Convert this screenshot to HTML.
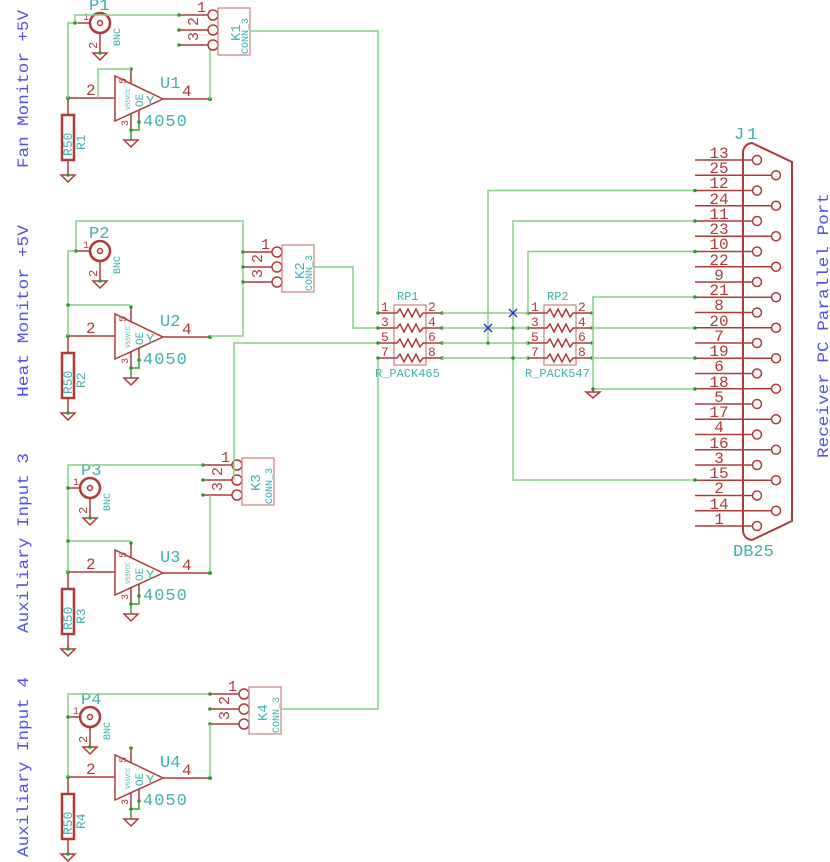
<!DOCTYPE html>
<html><head><meta charset="utf-8"><style>
html,body{margin:0;padding:0;background:#fff}
svg{display:block}
text{font-family:"Liberation Mono","DejaVu Sans Mono",monospace}
.r{stroke:#b03a3a;stroke-width:1.5;fill:none}
.rb{stroke:#b03a3a;stroke-width:2.5;fill:none}
.g{stroke:#86d086;stroke-width:1.5;fill:none}
.gd{stroke:#3aa03a;stroke-width:1.5;fill:none}
.rt{fill:#b03a3a}
.tt{fill:#40b0b0}
.bt{fill:#5050f0}
.d{fill:#2a9a2a}
</style></head><body>
<svg width="830" height="862" viewBox="0 0 830 862" xmlns="http://www.w3.org/2000/svg" font-size="14">
<defs>
<g id="amp">
  <line class="r" x1="68" y1="98" x2="115" y2="98"/>
  <text class="rt" x="86" y="95" font-size="16">2</text>
  <polygon class="r" points="115,76 115,121 163,99"/>
  <line class="r" x1="163" y1="99" x2="210" y2="99"/>
  <text class="rt" x="182" y="96" font-size="16">4</text>
  <line class="r" x1="131" y1="69" x2="131" y2="83"/>
  <text class="rt" x="122" y="80" font-size="10" transform="rotate(-90 126 80)">5</text>
  <line class="r" x1="131" y1="114" x2="131" y2="130"/>
  <text class="rt" x="122" y="124" font-size="10" transform="rotate(-90 126 122)">3</text>
  <line class="r" x1="139" y1="110" x2="139" y2="122"/>
  <polyline class="gd" points="139,122 139,130 131,130"/>
  <line class="gd" x1="131" y1="130" x2="131" y2="140"/>
  <polygon class="r" points="124,140 138,140 131,147"/>
  <circle class="d" cx="131" cy="130" r="1.8"/><circle class="d" cx="139" cy="122" r="1.8"/>
  <circle class="d" cx="131" cy="69" r="1.8"/>
  <text fill="#40b0b0" font-size="6" transform="translate(130,110) rotate(-90)">VSSVCC</text>
  <text fill="#40b0b0" font-size="11" transform="translate(143,107) rotate(-90)">OE</text>
  <text fill="#40b0b0" font-size="14" x="146" y="105">Y</text>
  <text class="tt" x="143" y="126" font-size="17" letter-spacing="1">4050</text>
  <line class="r" x1="68" y1="98" x2="68" y2="115"/>
  <rect class="rb" x="62" y="115" width="12" height="45"/>
  <line class="r" x1="68" y1="160" x2="68" y2="175"/>
  <polygon class="r" points="61,175 75,175 68,182"/>
  <circle class="d" cx="68" cy="175" r="1.8"/>
  <circle class="d" cx="68" cy="98" r="2"/><circle class="d" cx="210" cy="99" r="2"/>
  <text fill="#40b0b0" font-size="13" transform="translate(72,156) rotate(-90)">R50</text>
</g>
<g id="bnc">
  <circle cx="0" cy="0" r="10" fill="none" stroke="#b03a3a" stroke-width="2.5"/>
  <circle cx="0" cy="0" r="2.5" fill="none" stroke="#b03a3a" stroke-width="1.5"/>
  <line class="r" x1="-10" y1="0" x2="-22" y2="0"/>
  <line class="r" x1="0" y1="10" x2="0" y2="30"/>
  <polygon class="r" points="-7,30 7,30 0,37"/>
  <circle class="d" cx="0" cy="30" r="1.8"/>
  <text class="rt" x="-17" y="-3" font-size="10">1</text>
  <text class="rt" font-size="12" transform="translate(-3,26) rotate(-90)">2</text>
  <text fill="#40b0b0" font-size="10" transform="translate(20,23) rotate(-90)">BNC</text>
</g>
<g id="kconn">
  <line class="r" x1="0" y1="0" x2="29" y2="0"/>
  <line class="r" x1="0" y1="15" x2="29" y2="15"/>
  <line class="r" x1="0" y1="30" x2="29" y2="30"/>
  <circle class="r" cx="34" cy="0" r="5"/>
  <circle class="r" cx="34" cy="15" r="5"/>
  <circle class="r" cx="34" cy="30" r="5"/>
  <rect x="39" y="-7" width="32" height="47" fill="none" stroke="#d08a8a" stroke-width="1.3"/>
  <text class="rt" x="18" y="-3" font-size="15">1</text>
  <text class="rt" font-size="15" transform="translate(19,11) rotate(-90)">2</text>
  <text class="rt" font-size="15" transform="translate(19,26) rotate(-90)">3</text>
  <text fill="#40b0b0" font-size="10" transform="translate(69,39) rotate(-90)">CONN_3</text>
  <circle class="d" cx="0" cy="0" r="1.8"/><circle class="d" cx="0" cy="15" r="1.8"/><circle class="d" cx="0" cy="30" r="1.8"/>
</g>
</defs>

<text class="bt" font-size="16" transform="translate(28,168) rotate(-90)" textLength="158" lengthAdjust="spacingAndGlyphs">Fan Monitor +5V</text>
<text class="bt" font-size="16" transform="translate(28,397) rotate(-90)" textLength="172" lengthAdjust="spacingAndGlyphs">Heat Monitor +5V</text>
<text class="bt" font-size="16" transform="translate(28,633) rotate(-90)" textLength="180" lengthAdjust="spacingAndGlyphs">Auxiliary Input 3</text>
<text class="bt" font-size="16" transform="translate(28,857) rotate(-90)" textLength="180" lengthAdjust="spacingAndGlyphs">Auxiliary Input 4</text>
<text class="bt" font-size="16" transform="translate(828,458) rotate(-90)" textLength="265" lengthAdjust="spacingAndGlyphs">Receiver PC Parallel Port</text>

<!-- Channel 1 -->
<use href="#amp"/>
<text class="tt" font-size="13" transform="translate(85,150) rotate(-90)">R1</text>
<text class="tt" x="160" y="88" font-size="17">U1</text>
<use href="#bnc" x="100" y="23"/>
<text class="tt" x="89" y="10" font-size="17">P1</text>
<polyline class="g" points="68,98 68,23 78,23"/>
<polyline class="g" points="75,23 75,15 179,15"/>
<polyline class="g" points="98,98 98,69 131,69"/>
<circle class="d" cx="75" cy="23" r="1.8"/>
<use href="#kconn" x="179" y="15"/>
<text class="tt" font-size="14" transform="translate(240,41) rotate(-90)">K1</text>
<polyline class="g" points="210,50 210,99"/>
<polyline class="g" points="250,31 378,31 378,313"/>

<!-- Channel 2 -->
<use href="#amp" y="238"/>
<text class="tt" font-size="13" transform="translate(85,388) rotate(-90)">R2</text>
<text class="tt" x="160" y="326" font-size="17">U2</text>
<use href="#bnc" x="100" y="251"/>
<text class="tt" x="89" y="238" font-size="17">P2</text>
<polyline class="g" points="68,336 68,251 78,251"/>
<polyline class="g" points="76,251 76,221 243,221 243,336 210,336"/>
<line class="g" x1="68" y1="305" x2="131" y2="305"/>
<circle class="d" cx="68" cy="305" r="1.8"/><circle class="d" cx="76" cy="251" r="1.8"/>
<use href="#kconn" x="243" y="252"/>
<text class="tt" font-size="14" transform="translate(304,279) rotate(-90)">K2</text>
<polyline class="g" points="313,267 353,267 353,328 378,328"/>

<!-- Channel 3 -->
<use href="#amp" y="474"/>
<text class="tt" font-size="13" transform="translate(85,624) rotate(-90)">R3</text>
<text class="tt" x="160" y="562" font-size="17">U3</text>
<use href="#bnc" x="90" y="488"/>
<text class="tt" x="81" y="475" font-size="17">P3</text>
<polyline class="g" points="68,572 68,465 203,465"/>
<line class="g" x1="68" y1="541" x2="131" y2="541"/>
<circle class="d" cx="68" cy="541" r="1.8"/><circle class="d" cx="68" cy="488" r="1.8"/>
<use href="#kconn" x="203" y="465"/>
<text class="tt" font-size="14" transform="translate(260,491) rotate(-90)">K3</text>
<polyline class="g" points="210,495 210,572"/>
<polyline class="g" points="234,480 234,343 378,343"/>

<!-- Channel 4 -->
<use href="#amp" y="679"/>
<text class="tt" font-size="13" transform="translate(85,829) rotate(-90)">R4</text>
<text class="tt" x="160" y="767" font-size="17">U4</text>
<use href="#bnc" x="90" y="717"/>
<text class="tt" x="81" y="704" font-size="17">P4</text>
<polyline class="g" points="68,777 68,694 210,694"/>
<circle class="d" cx="68" cy="717" r="1.8"/>
<use href="#kconn" x="210" y="694"/>
<text class="tt" font-size="14" transform="translate(267,721) rotate(-90)">K4</text>
<polyline class="g" points="210,724 210,777"/>
<polyline class="g" points="282,709 378,709 378,358"/>

<!-- RP1 / RP2 -->
<g id="rp1">
  <rect x="394" y="305" width="32" height="60" fill="none" stroke="#d08a8a" stroke-width="1.3"/>
  <g class="r">
    <line x1="378" y1="313" x2="394" y2="313"/><line x1="378" y1="328" x2="394" y2="328"/>
    <line x1="378" y1="343" x2="394" y2="343"/><line x1="378" y1="358" x2="394" y2="358"/>
    <line x1="426" y1="313" x2="442" y2="313"/><line x1="426" y1="328" x2="442" y2="328"/>
    <line x1="426" y1="343" x2="442" y2="343"/><line x1="426" y1="358" x2="442" y2="358"/>
    <polyline points="394,313 397,313 400,309 404,317 408,309 412,317 416,309 420,317 423,313 426,313"/>
    <polyline points="394,328 397,328 400,324 404,332 408,324 412,332 416,324 420,332 423,328 426,328"/>
    <polyline points="394,343 397,343 400,339 404,347 408,339 412,347 416,339 420,347 423,343 426,343"/>
    <polyline points="394,358 397,358 400,354 404,362 408,354 412,362 416,354 420,362 423,358 426,358"/>
  </g>
  <text class="rt" x="381" y="311" font-size="13">1</text><text class="rt" x="381" y="326" font-size="13">3</text>
  <text class="rt" x="381" y="341" font-size="13">5</text><text class="rt" x="381" y="356" font-size="13">7</text>
  <text class="rt" x="428" y="311" font-size="13">2</text><text class="rt" x="428" y="326" font-size="13">4</text>
  <text class="rt" x="428" y="341" font-size="13">6</text><text class="rt" x="428" y="356" font-size="13">8</text>
  <circle class="d" cx="378" cy="313" r="1.8"/><circle class="d" cx="378" cy="328" r="1.8"/><circle class="d" cx="378" cy="343" r="1.8"/><circle class="d" cx="378" cy="358" r="1.8"/>
  <circle class="d" cx="442" cy="313" r="1.8"/><circle class="d" cx="442" cy="328" r="1.8"/><circle class="d" cx="442" cy="343" r="1.8"/><circle class="d" cx="442" cy="358" r="1.8"/>
</g>
<text class="tt" x="397" y="300" font-size="12">RP1</text>
<text class="tt" x="375" y="377" font-size="12">R_PACK465</text>
<use href="#rp1" x="150"/>
<text class="tt" x="547" y="300" font-size="12">RP2</text>
<text class="tt" x="525" y="377" font-size="12">R_PACK547</text>

<g class="g">
  <line x1="442" y1="313" x2="528" y2="313"/><line x1="442" y1="328" x2="528" y2="328"/>
  <line x1="442" y1="343" x2="528" y2="343"/><line x1="442" y1="358" x2="528" y2="358"/>
  <polyline points="695,190.5 488,190.5 488,343"/>
  <polyline points="695,221 513,221 513,480 695,480"/>
  <polyline points="695,251.5 528,251.5 528,313"/>
  <polyline points="695,297 593,297 593,389 695,389"/>
  <line x1="592" y1="328" x2="695" y2="328"/>
  <line x1="592" y1="358" x2="695" y2="358"/>
</g>
<circle class="d" cx="488" cy="343" r="1.8"/><circle class="d" cx="513" cy="328" r="1.8"/><circle class="d" cx="513" cy="358" r="1.8"/>
<circle class="d" cx="593" cy="389" r="1.8"/>
<line class="r" x1="593" y1="389" x2="593" y2="392"/>
<polygon class="r" points="586,392 600,392 593,398"/>
<g stroke="#2a2ad0" stroke-width="1.3">
  <line x1="484" y1="324" x2="492" y2="332"/><line x1="492" y1="324" x2="484" y2="332"/>
  <line x1="509" y1="309" x2="517" y2="317"/><line x1="517" y1="309" x2="509" y2="317"/>
</g>

<!-- DB25 -->
<path d="M752,143 Q744,144 743,152 L743,531 Q744,539 752,540 L792,521 L792,162 Z" fill="none" stroke="#b03a3a" stroke-width="2"/>
<text class="tt" x="734" y="139" font-size="17" letter-spacing="3">J1</text>
<text class="tt" x="733" y="556" font-size="17">DB25</text>
<g class="r">
  <line x1="695" y1="160" x2="752" y2="160"/><line x1="695" y1="175.25" x2="771" y2="175.25"/>
  <line x1="695" y1="190.5" x2="752" y2="190.5"/><line x1="695" y1="205.75" x2="771" y2="205.75"/>
  <line x1="695" y1="221" x2="752" y2="221"/><line x1="695" y1="236.25" x2="771" y2="236.25"/>
  <line x1="695" y1="251.5" x2="752" y2="251.5"/><line x1="695" y1="266.75" x2="771" y2="266.75"/>
  <line x1="695" y1="282" x2="752" y2="282"/><line x1="695" y1="297.25" x2="771" y2="297.25"/>
  <line x1="695" y1="312.5" x2="752" y2="312.5"/><line x1="695" y1="327.75" x2="771" y2="327.75"/>
  <line x1="695" y1="343" x2="752" y2="343"/><line x1="695" y1="358.25" x2="771" y2="358.25"/>
  <line x1="695" y1="373.5" x2="752" y2="373.5"/><line x1="695" y1="388.75" x2="771" y2="388.75"/>
  <line x1="695" y1="404" x2="752" y2="404"/><line x1="695" y1="419.25" x2="771" y2="419.25"/>
  <line x1="695" y1="434.5" x2="752" y2="434.5"/><line x1="695" y1="449.75" x2="771" y2="449.75"/>
  <line x1="695" y1="465" x2="752" y2="465"/><line x1="695" y1="480.25" x2="771" y2="480.25"/>
  <line x1="695" y1="495.5" x2="752" y2="495.5"/><line x1="695" y1="510.75" x2="771" y2="510.75"/>
  <line x1="695" y1="526" x2="752" y2="526"/>
  <circle cx="757" cy="160" r="4.5"/><circle cx="776" cy="175.25" r="4.5"/>
  <circle cx="757" cy="190.5" r="4.5"/><circle cx="776" cy="205.75" r="4.5"/>
  <circle cx="757" cy="221" r="4.5"/><circle cx="776" cy="236.25" r="4.5"/>
  <circle cx="757" cy="251.5" r="4.5"/><circle cx="776" cy="266.75" r="4.5"/>
  <circle cx="757" cy="282" r="4.5"/><circle cx="776" cy="297.25" r="4.5"/>
  <circle cx="757" cy="312.5" r="4.5"/><circle cx="776" cy="327.75" r="4.5"/>
  <circle cx="757" cy="343" r="4.5"/><circle cx="776" cy="358.25" r="4.5"/>
  <circle cx="757" cy="373.5" r="4.5"/><circle cx="776" cy="388.75" r="4.5"/>
  <circle cx="757" cy="404" r="4.5"/><circle cx="776" cy="419.25" r="4.5"/>
  <circle cx="757" cy="434.5" r="4.5"/><circle cx="776" cy="449.75" r="4.5"/>
  <circle cx="757" cy="465" r="4.5"/><circle cx="776" cy="480.25" r="4.5"/>
  <circle cx="757" cy="495.5" r="4.5"/><circle cx="776" cy="510.75" r="4.5"/>
  <circle cx="757" cy="526" r="4.5"/>
</g>
<g class="rt" font-size="16" text-anchor="middle">
  <text x="719" y="158">13</text><text x="719" y="173">25</text><text x="719" y="188">12</text><text x="719" y="204">24</text>
  <text x="719" y="219">11</text><text x="719" y="234">23</text><text x="719" y="249">10</text><text x="719" y="265">22</text>
  <text x="719" y="280">9</text><text x="719" y="295">21</text><text x="719" y="310">8</text><text x="719" y="326">20</text>
  <text x="719" y="341">7</text><text x="719" y="356">19</text><text x="719" y="371">6</text><text x="719" y="387">18</text>
  <text x="719" y="402">5</text><text x="719" y="417">17</text><text x="719" y="432">4</text><text x="719" y="448">16</text>
  <text x="719" y="463">3</text><text x="719" y="478">15</text><text x="719" y="493">2</text><text x="719" y="509">14</text>
  <text x="719" y="524">1</text>
</g>
<g class="d">
  <circle cx="695" cy="190.5" r="1.8"/><circle cx="695" cy="221" r="1.8"/><circle cx="695" cy="251.5" r="1.8"/>
  <circle cx="695" cy="297" r="1.8"/><circle cx="695" cy="328" r="1.8"/><circle cx="695" cy="358" r="1.8"/>
  <circle cx="695" cy="389" r="1.8"/><circle cx="695" cy="480" r="1.8"/>
</g>
</svg>
</body></html>
